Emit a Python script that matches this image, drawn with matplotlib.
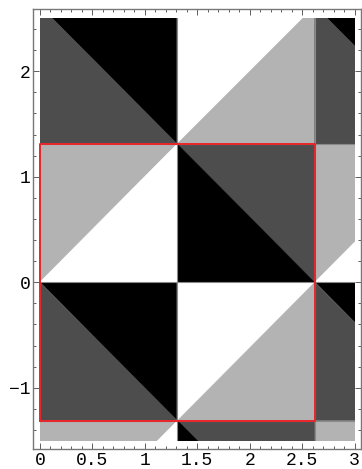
import matplotlib
matplotlib.use("Agg")
import matplotlib.pyplot as plt
from matplotlib.patches import Polygon, Rectangle
from matplotlib.ticker import MultipleLocator

# cell size of the checker pattern (period = 2*h)
h = 1.31
# region covered by the density image
img_x = [0.0, 3.0]
img_y = [-1.5, 2.5]
# shade of (first, second) triangle for each cell kind, keyed by (col parity, row parity)
# main diagonal cells: first = upper-left, second = lower-right
# anti diagonal cells: first = upper-right, second = lower-left
cell_diag = {(0, 0): "main", (1, 0): "anti", (0, 1): "anti", (1, 1): "main"}
cell_shades = {(0, 0): (0.70, 1.00), (1, 0): (0.30, 0.00),
               (0, 1): (0.00, 0.30), (1, 1): (1.00, 0.70)}
# red box corners
box_x = [0.0, 2.0 * h]
box_y = [-h, h]
x_major = [0, 0.5, 1, 1.5, 2, 2.5, 3]
x_labels = ["0", "0.5", "1", "1.5", "2", "2.5", "3"]
y_major = [-1, 0, 1, 2]
y_labels = ["\u22121", "0", "1", "2"]

fig = plt.figure(figsize=(3.62, 4.69), dpi=100)
ax = fig.add_axes([33 / 362, 20 / 469, 328 / 362, 440 / 469])

clip = Rectangle((img_x[0], img_y[0]), img_x[1] - img_x[0], img_y[1] - img_y[0],
                 transform=ax.transData)

for i in range(-1, 4):
    for j in range(-3, 3):
        x0, y0 = i * h, j * h
        key = (i % 2, j % 2)
        s1, s2 = cell_shades[key]
        if cell_diag[key] == "main":
            t1 = [(x0, y0), (x0, y0 + h), (x0 + h, y0 + h)]
            t2 = [(x0, y0), (x0 + h, y0), (x0 + h, y0 + h)]
        else:
            t1 = [(x0, y0 + h), (x0 + h, y0 + h), (x0 + h, y0)]
            t2 = [(x0, y0), (x0, y0 + h), (x0 + h, y0)]
        for tri, s in [(t1, s1), (t2, s2)]:
            p = Polygon(tri, closed=True, facecolor=str(s), edgecolor=str(s),
                        linewidth=0.3, antialiased=True)
            ax.add_patch(p)
            p.set_clip_path(clip)

# seams along the cell boundaries
for k in range(1, 3):
    ln, = ax.plot([k * h, k * h], img_y, color="#8a8a8a", lw=0.8)
    ln.set_clip_path(clip)
for k in range(-1, 2):
    ln, = ax.plot(img_x, [k * h, k * h], color="#8a8a8a", lw=0.8)
    ln.set_clip_path(clip)

ax.plot([box_x[0], box_x[1], box_x[1], box_x[0], box_x[0]],
        [box_y[0], box_y[0], box_y[1], box_y[1], box_y[0]],
        color="#e8262a", lw=1.4)

ax.set_xlim(-0.066, 3.06)
ax.set_ylim(-1.58, 2.59)

ax.set_xticks(x_major)
ax.set_xticklabels(x_labels)
ax.set_yticks(y_major)
ax.set_yticklabels(y_labels)
ax.xaxis.set_minor_locator(MultipleLocator(0.1))
ax.yaxis.set_minor_locator(MultipleLocator(0.2))
ax.tick_params(which="both", direction="in", top=True, right=True,
               color="#444444", width=0.6)
ax.tick_params(which="major", length=4)
ax.tick_params(which="minor", length=2)
ax.tick_params(labelsize=13, pad=2)
for lab in ax.get_xticklabels() + ax.get_yticklabels():
    lab.set_family(["Liberation Mono", "DejaVu Sans Mono"])
for sp in ax.spines.values():
    sp.set_color("#777777")
    sp.set_linewidth(1.0)

fig.savefig("out.png", dpi=100)
